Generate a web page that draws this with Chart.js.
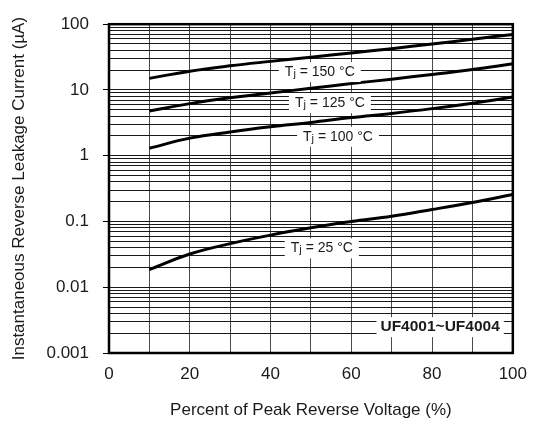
<!DOCTYPE html>
<html>
<head>
<meta charset="utf-8">
<script src="https://cdn.jsdelivr.net/npm/chart.js@4.4.0/dist/chart.umd.min.js"></script>
<style>
    html, body { margin: 0; padding: 0; background: #FFFFFF; }
    #wrap { width: 538px; height: 429px; }
</style>
</head>
<body>
<div id="wrap"><canvas id="leakageChart" width="538" height="429"></canvas></div>
<script>
// Data -----------------------------------------------------------------------
var voltagePercent = [10, 20, 30, 40, 50, 60, 70, 80, 90, 100];
var current150 = [15, 19.3, 23.3, 27.2, 31.5, 36.5, 42.5, 50, 59, 70];
var current125 = [4.8, 6.2, 7.6, 9.0, 10.6, 12.5, 14.6, 17.2, 20.5, 25];
var current100 = [1.3, 1.85, 2.3, 2.75, 3.2, 3.8, 4.4, 5.2, 6.3, 7.8];
var current25 = [0.0185, 0.032, 0.046, 0.062, 0.08, 0.1, 0.12, 0.152, 0.195, 0.257];

// Ticks ----------------------------------------------------------------------
var xTickValues = [0, 20, 40, 60, 80, 100];
var xTickLabels = ['0', '20', '40', '60', '80', '100'];
var yDecades = [0.001, 0.01, 0.1, 1, 10, 100];
var yTickLabels = ['0.001', '0.01', '0.1', '1', '10', '100'];
var yMinorSteps = [2, 3, 4, 5, 6, 7, 8, 9];

// Annotations ----------------------------------------------------------------
var curveTemps = ['150', '125', '100', '25'];
var curveLabelX = [52.2, 54.7, 56.7, 52.7];
var curveLabelY = [18.7, 6.3, 1.94, 0.039];
var partLabel = 'UF4001~UF4004';
var partLabelX = 82;
var partLabelY = 0.00247;

var fontName = '"Liberation Sans", Arial, Helvetica, sans-serif';
var textColor = '#1a1a1a';

function isDecade(v) {
    for (var i = 0; i < yDecades.length; i++) {
        if (Math.abs(v - yDecades[i]) < yDecades[i] * 1e-6) return i;
    }
    return -1;
}

// Plugins --------------------------------------------------------------------
var frameAndLabels = {
    id: 'frameAndLabels',
    afterDatasetsDraw: function(chart) {
        var ctx = chart.ctx;
        var xs = chart.scales.x;
        var ys = chart.scales.y;
        var area = chart.chartArea;

        ctx.save();
        ctx.textBaseline = 'middle';

        // curve labels: "Tj = xxx °C"
        for (var i = 0; i < curveTemps.length; i++) {
            var cx = xs.getPixelForValue(curveLabelX[i]);
            var cy = ys.getPixelForValue(curveLabelY[i]);
            ctx.font = '14px ' + fontName;
            var wT = ctx.measureText('T').width;
            var rest = ' = ' + curveTemps[i] + ' \u00B0C';
            var wRest = ctx.measureText(rest).width;
            ctx.font = '11px ' + fontName;
            var wJ = ctx.measureText('j').width;
            var total = wT + wJ + wRest;
            var x0 = cx - total / 2;

            ctx.fillStyle = '#FFFFFF';
            ctx.fillRect(x0 - 6, cy - 10, total + 12, 20);

            ctx.fillStyle = textColor;
            ctx.textAlign = 'left';
            ctx.font = '14px ' + fontName;
            ctx.fillText('T', x0, cy);
            ctx.font = '11px ' + fontName;
            ctx.fillText('j', x0 + wT, cy + 2);
            ctx.font = '14px ' + fontName;
            ctx.fillText(rest, x0 + wT + wJ, cy);
        }

        // part number label
        ctx.font = 'bold 15.5px ' + fontName;
        var px = xs.getPixelForValue(partLabelX);
        var py = ys.getPixelForValue(partLabelY);
        var pw = ctx.measureText(partLabel).width;
        ctx.fillStyle = '#FFFFFF';
        ctx.fillRect(px - pw / 2 - 4, py - 10, pw + 8, 20);
        ctx.fillStyle = textColor;
        ctx.textAlign = 'center';
        ctx.fillText(partLabel, px, py);

        // frame
        ctx.strokeStyle = '#000000';
        ctx.lineWidth = 2.5;
        ctx.strokeRect(area.left, area.top, area.right - area.left, area.bottom - area.top);
        ctx.restore();
    }
};

// Chart ----------------------------------------------------------------------
function makeSet(values) {
    return {
        label: '',
        data: values,
        borderColor: '#000000',
        borderWidth: 3,
        pointRadius: 0,
        fill: false,
        tension: 0.4
    };
}

const ctxLeak = document.getElementById('leakageChart').getContext('2d');
const chartLeak = new Chart(ctxLeak, {
    type: 'line',
    data: {
        labels: voltagePercent,
        datasets: [
            makeSet(current150),
            makeSet(current125),
            makeSet(current100),
            makeSet(current25)
        ]
    },
    options: {
        responsive: false,
        animation: false,
        devicePixelRatio: 1,
        layout: {
            padding: { left: 0, top: 22, right: 25, bottom: 0 }
        },
        plugins: {
            legend: { display: false },
            tooltip: { enabled: false }
        },
        scales: {
            x: {
                type: 'linear',
                min: 0,
                max: 100,
                afterFit: function(scale) { scale.height = 76; },
                grid: {
                    color: '#4a4a4a',
                    lineWidth: 1,
                    drawTicks: false,
                    tickLength: 0
                },
                border: { display: false },
                ticks: {
                    stepSize: 10,
                    autoSkip: false,
                    maxRotation: 0,
                    padding: 11,
                    color: textColor,
                    font: { family: fontName, size: 17 },
                    callback: function(value) {
                        var k = xTickValues.indexOf(value);
                        return k >= 0 ? xTickLabels[k] : '';
                    }
                },
                title: {
                    display: true,
                    text: 'Percent of Peak Reverse Voltage (%)',
                    color: textColor,
                    font: { family: fontName, size: 17 },
                    padding: { top: 0, bottom: 8 }
                }
            },
            y: {
                type: 'logarithmic',
                min: 0.001,
                max: 100,
                afterFit: function(scale) { scale.width = 109; },
                afterBuildTicks: function(scale) {
                    var list = [];
                    for (var d = 0; d < yDecades.length; d++) {
                        list.push({ value: yDecades[d] });
                        if (d < yDecades.length - 1) {
                            for (var m = 0; m < yMinorSteps.length; m++) {
                                list.push({ value: yDecades[d] * yMinorSteps[m] });
                            }
                        }
                    }
                    scale.ticks = list;
                },
                grid: {
                    color: '#1a1a1a',
                    lineWidth: 1,
                    tickLength: 6,
                    tickColor: function(c) {
                        return (c.tick && isDecade(c.tick.value) >= 0) ? '#000000' : 'rgba(0,0,0,0)';
                    }
                },
                border: { display: false },
                ticks: {
                    autoSkip: false,
                    padding: 14,
                    color: textColor,
                    font: { family: fontName, size: 17 },
                    callback: function(value) {
                        var k = isDecade(value);
                        return k >= 0 ? yTickLabels[k] : '';
                    }
                },
                title: {
                    display: true,
                    text: 'Instantaneous Reverse Leakage Current (\u00B5A)',
                    color: textColor,
                    font: { family: fontName, size: 17 },
                    padding: { top: 9, bottom: 0 }
                }
            }
        }
    },
    plugins: [frameAndLabels]
});
</script>
</body>
</html>
